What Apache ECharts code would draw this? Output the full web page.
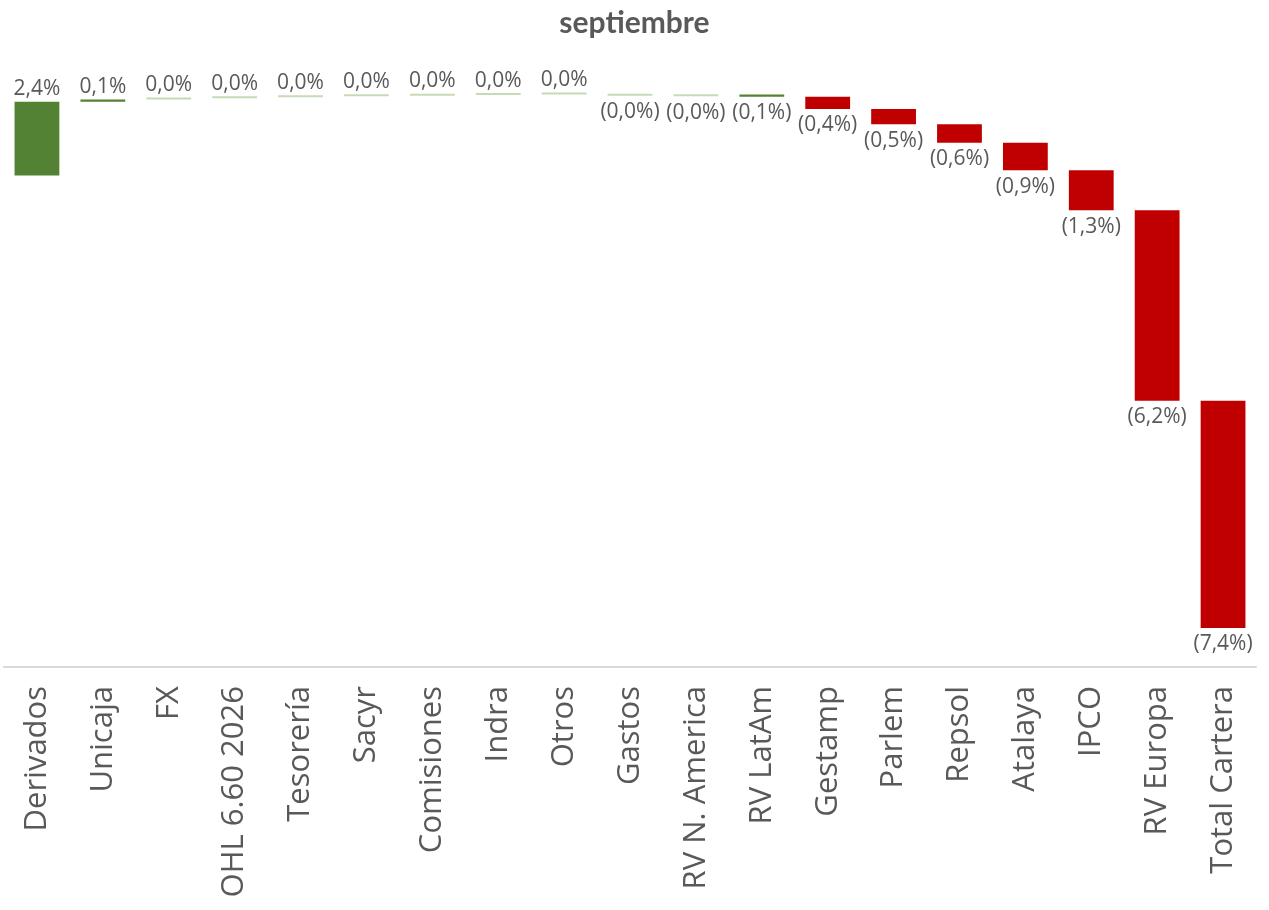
<!DOCTYPE html>
<html lang="es">
  <head>
    <meta charset="UTF-8" />
    <script src="https://cdn.jsdelivr.net/npm/echarts@6/dist/echarts.min.js"></script>
    <style>
      html,
      body {
        margin: 0;
        overflow: hidden;
        background: #fff;
      }
      #viewport {
        position: absolute;
        left: 0px;
        top: 0px;
        width: 1269px;
        height: 910px;
      }
    </style>
  </head>
  <body>
    <div id="viewport"></div>
    <script>
      var categories = [
        'Derivados', 'Unicaja', 'FX', 'OHL 6.60 2026', 'Tesorería', 'Sacyr',
        'Comisiones', 'Indra', 'Otros', 'Gastos', 'RV N. America', 'RV LatAm',
        'Gestamp', 'Parlem', 'Repsol', 'Atalaya', 'IPCO', 'RV Europa',
        'Total Cartera'
      ];
      // contribution in % (tiny ones)
      var contributions = [
        2.4, 0.08, 0.04, 0.03, 0.03, 0.02, 0.02, 0.02, 0.02, -0.01, -0.01,
        -0.07, -0.4, -0.5, -0.6, -0.9, -1.3, -6.2, -7.4
      ];

      // waterfall: each bar runs from the running total to the new total
      var bars = [];
      var running = 0;
      contributions.forEach(function (v, i) {
        bars.push([i, running, running + v, v]);
        running += v;
      });

      function fmt(v) {
        var s = Math.abs(v).toFixed(1).replace('.', ',') + '%';
        return v < 0 ? '(' + s + ')' : s;
      }

      function barColor(v) {
        if (Math.abs(v) < 0.05) return '#c6dab8';
        if (v > -0.2) return '#548235';
        return '#c00000';
      }

      var myChart = echarts.init(document.getElementById('viewport'));

      var option = {
        animation: false,
        backgroundColor: '#fff',
        title: {
          text: 'septiembre',
          left: 'center',
          top: 3,
          textStyle: {
            fontFamily: 'Lato',
            fontWeight: 'bold',
            fontSize: 30,
            color: '#595959'
          }
        },
        grid: { left: 4, right: 13, top: 65, bottom: 243 },
        xAxis: {
          type: 'category',
          data: categories,
          axisLine: {
            onZero: false,
            lineStyle: { color: '#d9d9d9', width: 2 }
          },
          axisTick: { show: false },
          axisLabel: {
            rotate: 90,
            interval: 0,
            margin: 19,
            fontFamily: 'Open Sans',
            fontSize: 31,
            color: '#595959'
          }
        },
        yAxis: {
          type: 'value',
          min: -16,
          max: 3.6,
          show: false,
          splitLine: { show: false }
        },
        series: [
          {
            type: 'custom',
            data: bars,
            encode: { x: 0, y: [1, 2] },
            renderItem: function (params, api) {
              var i = api.value(0);
              var v = api.value(3);
              var p0 = api.coord([i, api.value(1)]);
              var p1 = api.coord([i, api.value(2)]);
              var w = api.size([1, 0])[0] * 0.68;
              var top = Math.min(p0[1], p1[1]);
              var h = Math.max(Math.abs(p1[1] - p0[1]), 2);
              if (Math.abs(p1[1] - p0[1]) < 2 && v < 0) top = p0[1];
              if (Math.abs(p1[1] - p0[1]) < 2 && v >= 0) top = p0[1] - 2;
              return {
                type: 'rect',
                shape: { x: p0[0] - w / 2, y: top, width: w, height: h },
                style: { fill: barColor(v) },
                textContent: {
                  style: {
                    text: fmt(v),
                    fill: '#595959',
                    fontFamily: 'Open Sans',
                    fontSize: 21
                  }
                },
                textConfig: {
                  position: v < 0 ? 'bottom' : 'top',
                  distance: v < 0 ? 6 : 2
                }
              };
            }
          }
        ]
      };

      myChart.setOption(option);
    </script>
  </body>
</html>
